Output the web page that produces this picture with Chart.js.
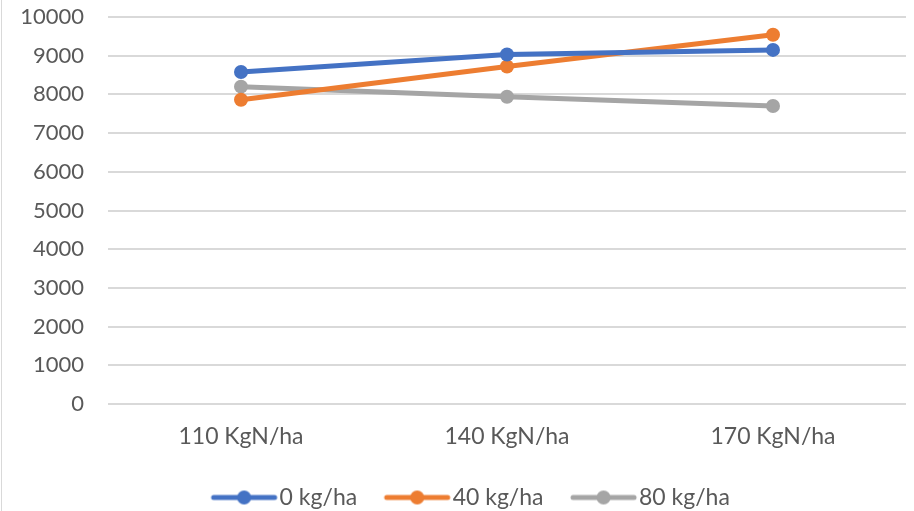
<!DOCTYPE html>
<html>
<head>
<meta charset="utf-8">
<script src="https://cdn.jsdelivr.net/npm/chart.js@4/dist/chart.umd.min.js"></script>
<style>
  html, body { margin: 0; padding: 0; background: #fff; }
  canvas { display: block; }
</style>
</head>
<body>
<canvas id="chart" width="914" height="511"></canvas>
<script>
  const categories = ['110 KgN/ha', '140 KgN/ha', '170 KgN/ha'];
  const seriesNames = ['0 kg/ha', '40 kg/ha', '80 kg/ha'];
  const values0 = [8580, 9030, 9150];
  const values40 = [7860, 8720, 9540];
  const values80 = [8200, 7940, 7700];
  const colors = ['#4472C4', '#ED7D31', '#A5A5A5'];

  const font = "Lato, 'Liberation Sans', sans-serif";
  const fontSize = 22;
  const legendSize = 23;

  // legend marker: thick line with a dot, drawn at the right end of a wider box
  const markerBox = 80;   // pointStyleWidth
  function marker(color) {
    let c = document.createElement('canvas');
    c.width = markerBox + 2 * (legendSize / 2 - 1);
    c.height = 16;
    let ctx = c.getContext('2d');
    let x1 = c.width - 4, x0 = x1 - 61;
    ctx.strokeStyle = color;
    ctx.lineWidth = 5;
    ctx.lineCap = 'round';
    ctx.beginPath();
    ctx.moveTo(x0, 8); ctx.lineTo(x1, 8);
    ctx.stroke();
    ctx.fillStyle = color;
    ctx.beginPath();
    ctx.arc((x0 + x1) / 2, 8, 7, 0, Math.PI * 2);
    ctx.fill();
    return c;
  }

  let allValues = [values0, values40, values80];
  let datasets = seriesNames.map(function(name, i) {
    return {
      label: name,
      data: allValues[i],
      borderColor: colors[i],
      backgroundColor: colors[i],
      borderWidth: 5,
      pointRadius: 7,
      pointHoverRadius: 7,
      pointBorderWidth: 0,
      pointStyle: 'circle',
      legendMarker: marker(colors[i])
    };
  });

  const frame = {
    id: 'frame',
    afterDraw(chart) {
      let ctx = chart.ctx;
      ctx.save();
      ctx.strokeStyle = '#d9d9d9';
      ctx.lineWidth = 1;
      ctx.beginPath();
      ctx.moveTo(1.5, 0); ctx.lineTo(1.5, 511);
      ctx.stroke();
      ctx.restore();
    }
  };

  new Chart(document.getElementById('chart'), {
    type: 'line',
    data: { labels: categories, datasets: datasets },
    plugins: [frame],
    options: {
      responsive: false,
      animation: false,
      layout: { padding: { top: 17, right: 8, bottom: -8, left: 12 } },
      plugins: {
        tooltip: { enabled: false },
        legend: {
          position: 'bottom',
          labels: {
            usePointStyle: true,
            pointStyleWidth: markerBox,
            color: '#595959',
            font: { family: font, size: legendSize },
            padding: 4,
            generateLabels(chart) {
              return chart.data.datasets.map(function(ds, i) {
                return {
                  text: ds.label,
                  fillStyle: ds.borderColor,
                  strokeStyle: ds.borderColor,
                  pointStyle: ds.legendMarker,
                  fontColor: '#595959',
                  datasetIndex: i,
                  hidden: false
                };
              });
            }
          }
        }
      },
      scales: {
        x: {
          offset: true,
          afterFit(scale) { scale.height = 78; },
          grid: { display: false, drawTicks: false },
          border: { display: false },
          ticks: { color: '#595959', font: { family: font, size: legendSize }, padding: 19 }
        },
        y: {
          min: 0,
          max: 10000,
          afterFit(scale) {
            scale.width = 96;
            scale.paddingTop = 0;
            scale.paddingBottom = 0;
          },
          ticks: {
            stepSize: 1000,
            color: '#595959',
            font: { family: font, size: fontSize },
            padding: 24,
            callback: function(v) { return String(v); }
          },
          grid: { color: '#d9d9d9', lineWidth: 2, drawTicks: false },
          border: { display: false }
        }
      }
    }
  });
</script>
</body>
</html>
